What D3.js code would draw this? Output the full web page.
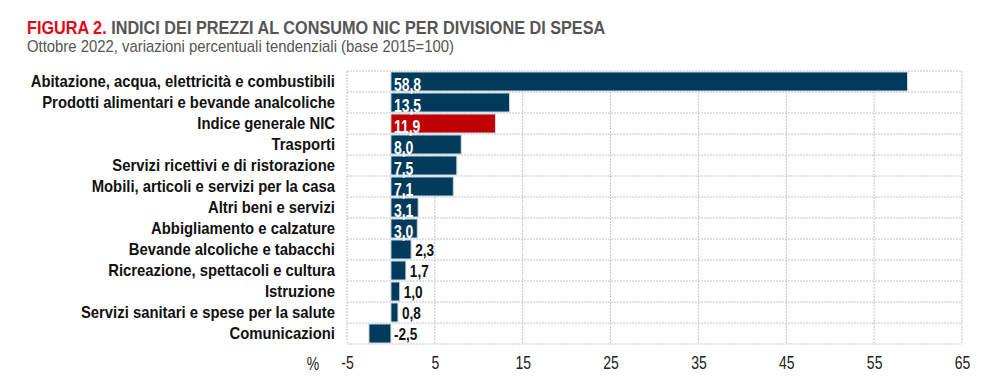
<!DOCTYPE html>
<html><head><meta charset="utf-8">
<script src="https://cdn.jsdelivr.net/npm/d3@7"></script>
<style>
body{margin:0;background:#fff;}
text{font-family:"Liberation Sans",Arial,sans-serif;}
</style></head>
<body><svg id="c" width="1000" height="390"></svg>
<script>
const categories = ["Abitazione, acqua, elettricità e combustibili","Prodotti alimentari e bevande analcoliche","Indice generale NIC","Trasporti","Servizi ricettivi e di ristorazione","Mobili, articoli e servizi per la casa","Altri beni e servizi","Abbigliamento e calzature","Bevande alcoliche e tabacchi","Ricreazione, spettacoli e cultura","Istruzione","Servizi sanitari e spese per la salute","Comunicazioni"];
const values = [58.8,13.5,11.9,8.0,7.5,7.1,3.1,3.0,2.3,1.7,1.0,0.8,-2.5];
const highlight = ["Indice generale NIC"];
const tickValues = [-5,5,15,25,35,45,55,65];

const svg = d3.select("#c");
const m = {l:347, r:962, t:71, b:344};
const x = d3.scaleLinear().domain([-5,65]).range([m.l,m.r]);
const fmt = v => d3.format(".1f")(v).replace(".",",").replace("−","-");
const step = (m.b-m.t)/categories.length;

function ntext(parent, px, py, s){
  return parent.append("g").attr("transform",`translate(${px},${py})`)
    .append("text").attr("transform",`scale(${s},1)`);
}

// title
const t = ntext(svg,27,34,0.855).attr("font-size",19).attr("font-weight","bold");
t.append("tspan").attr("fill","#e30613").text("FIGURA 2. ");
t.append("tspan").attr("fill","#555555").text("INDICI DEI PREZZI AL CONSUMO NIC PER DIVISIONE DI SPESA");
ntext(svg,27,52,0.93).attr("font-size",16).attr("fill","#555555")
  .text("Ottobre 2022, variazioni percentuali tendenziali (base 2015=100)");

// grid
const g = svg.append("g");
const bounds = d3.range(categories.length+1).map(i=>m.t+i*step);
g.selectAll("line.h").data(bounds).join("line")
  .attr("x1",m.l).attr("x2",m.r).attr("y1",d=>d).attr("y2",d=>d)
  .attr("stroke","#c4c4c4").attr("stroke-dasharray","2,1").attr("stroke-width",1);
g.selectAll("line.v").data(tickValues).join("line")
  .attr("x1",d=>x(d)).attr("x2",d=>x(d)).attr("y1",m.t).attr("y2",m.b)
  .attr("stroke","#c4c4c4").attr("stroke-dasharray","2,1").attr("stroke-width",1);

// bars
svg.append("g").selectAll("rect").data(values).join("rect")
  .attr("x",d=>x(Math.min(0,d))).attr("width",d=>Math.abs(x(d)-x(0)))
  .attr("y",(d,i)=>m.t+i*step+1).attr("height",step-2)
  .attr("fill",(d,i)=>highlight.includes(categories[i])?"#c00000":"#003b5c")
  .attr("stroke","#c9d9e4").attr("stroke-width",1);

// value labels
const vl = svg.append("g");
values.forEach((d,i)=>{
  const inside = d>=3;
  const px = inside ? x(0)+3 : (d<0 ? x(0)+3 : x(d)+4);
  const py = m.t+i*step+step/2+(inside?9:6);
  ntext(vl, px, py, inside?0.8:0.85)
    .attr("font-size",inside?17.5:16).attr("font-weight","bold")
    .attr("fill",inside?"#ffffff":"#111111").text(fmt(d));
});

// category labels
const cl = svg.append("g");
categories.forEach((c,i)=>{
  ntext(cl, 335, m.t+i*step+step/2+5.5, 0.9)
    .attr("text-anchor","end").attr("font-size",16.5).attr("font-weight","bold").attr("fill","#111111")
    .text(c);
});

// x axis
const ax = svg.append("g").attr("transform",`translate(0,${m.b})`)
  .call(d3.axisBottom(x).tickValues(tickValues).tickSize(0).tickPadding(13).tickFormat(d=>String(d)));
ax.select(".domain").remove();
ax.selectAll("text").attr("font-size",17.5).attr("fill","#222").attr("font-family",'"Liberation Sans",Arial,sans-serif')
  .attr("transform","scale(0.8,1)");
ntext(svg,313,370,0.8).attr("font-size",17.5).attr("fill","#222").attr("text-anchor","middle").text("%");
</script></body></html>
